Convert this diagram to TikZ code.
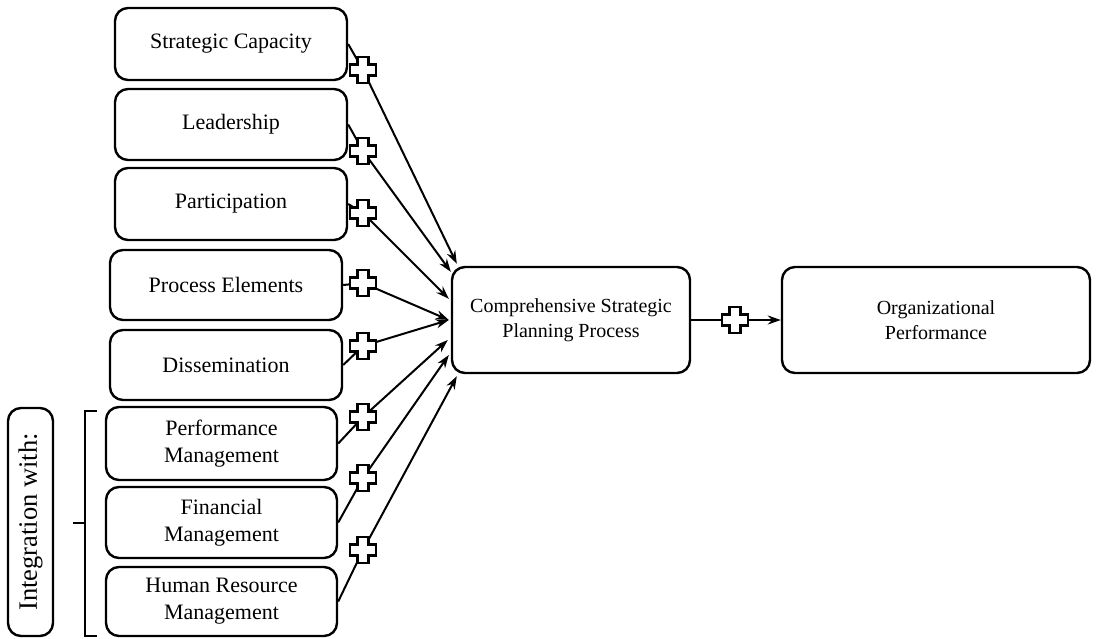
\documentclass[tikz,border=0pt]{standalone}
\usepackage{fontspec}
\setmainfont{Liberation Serif}
\usetikzlibrary{arrows.meta,calc}
\begin{document}
\begin{tikzpicture}[x=1pt,y=-1pt,
  box/.style={draw, line width=2.4pt, rounded corners=13pt, align=center, inner sep=0pt,
    font=\fontsize{22}{27}\selectfont},
  bigbox/.style={box, font=\fontsize{20}{25}\selectfont},
  arr/.style={line width=2pt, -{Stealth[length=13pt,width=9pt]}},
  bracket/.style={line width=2.2pt},
  plus/.pic={\filldraw[fill=white, line width=2.2pt]
    (-5.5,-13)--(5.5,-13)--(5.5,-5.5)--(13,-5.5)--(13,5.5)--(5.5,5.5)--(5.5,13)
    --(-5.5,13)--(-5.5,5.5)--(-13,5.5)--(-13,-5.5)--(-5.5,-5.5)--cycle;}
]
\useasboundingbox (0,0) rectangle (1102,638);

% left boxes
\node[box, minimum width=232pt, minimum height=72pt] (sc) at (231,44) {Strategic Capacity};
\node[box, minimum width=232pt, minimum height=71pt] (ld) at (231,124.5) {Leadership};
\node[box, minimum width=232pt, minimum height=72pt] (pa) at (231,204) {Participation};
\node[box, minimum width=232pt, minimum height=70pt] (pe) at (226,285) {Process Elements};
\node[box, minimum width=232pt, minimum height=70pt] (ds) at (226,365) {Dissemination};
\node[box, minimum width=231pt, minimum height=73pt] (pm) at (221.5,443.5) {Performance\\Management};
\node[box, minimum width=231pt, minimum height=71pt] (fm) at (221.5,522.5) {Financial\\Management};
\node[box, minimum width=231pt, minimum height=69pt] (hr) at (221.5,601.5) {Human Resource\\Management};

% integration label
\node[box, rotate=90, minimum width=228pt, minimum height=45pt, font=\fontsize{26.5}{30}\selectfont]
  (iw) at (30.5,522) {Integration with:};
\draw[bracket] (97,411) -- (85,411) -- (85,636) -- (97,636);
\draw[bracket] (85,523) -- (73,523);

% right boxes
\node[bigbox, minimum width=238pt, minimum height=106pt] (cps) at (571,320)
  {Comprehensive Strategic\\Planning Process};
\node[bigbox, minimum width=308pt, minimum height=106pt] (org) at (936,320)
  {Organizational\\Performance};

% plus positions
\coordinate (p1) at (363,70);
\coordinate (p2) at (363,151);
\coordinate (p3) at (363,213);
\coordinate (p4) at (363,283);
\coordinate (p5) at (363,346);
\coordinate (p6) at (363,417);
\coordinate (p7) at (363,478);
\coordinate (p8) at (363,550);
\coordinate (p9) at (735,320);

% connectors
\draw[arr] (sc.east) -- (p1) -- ($(cps.north west)+(6,-2)$);
\draw[arr] (ld.east) -- (p2) -- ($(cps.north west)+(0,6)$);
\draw[arr] (pa.east) -- (p3) -- ($(cps.north west)+(-2,33)$);
\draw[arr] (pe.east) -- (p4) -- ($(cps.west)+(-2,0)$);
\draw[arr] (ds.east) -- (p5) -- ($(cps.west)+(-2,0)$);
\draw[arr] (pm.east) -- (p6) -- ($(cps.west)+(-3,20)$);
\draw[arr] (fm.east) -- (p7) -- ($(cps.west)+(-2,35)$);
\draw[arr] (hr.east) -- (p8) -- ($(cps.south west)+(6,2)$);
\draw[arr] (cps.east) -- (p9) -- (org.west);

% plus signs
\foreach \p in {p1,p2,p3,p4,p5,p6,p7,p8,p9} \pic at (\p) {plus};
\end{tikzpicture}
\end{document}
